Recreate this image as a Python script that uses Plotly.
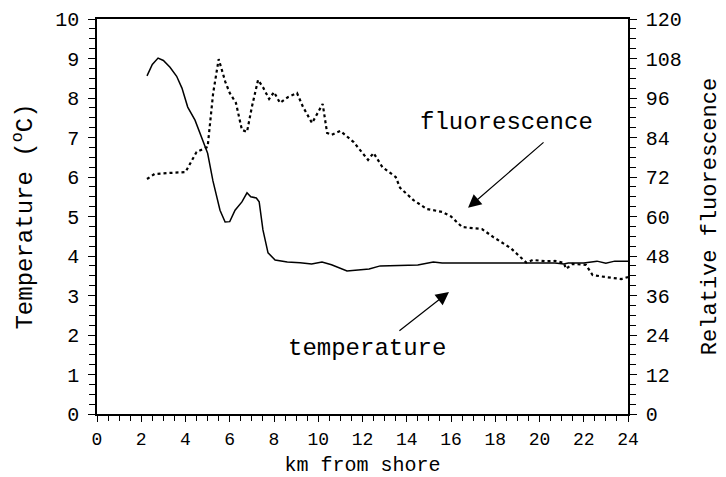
import plotly.graph_objects as go

temp_km = [2.26, 2.5, 2.76, 3.0, 3.3, 3.6, 3.84, 4.1, 4.43, 4.75, 5.0, 5.24, 5.56, 5.79, 6.0,
           6.24, 6.55, 6.78, 6.95, 7.2, 7.33, 7.5, 7.73, 8.05, 8.6, 9.18, 9.7, 10.17, 10.6,
           11.3, 11.8, 12.3, 12.8, 13.5, 14.5, 15.2, 15.6, 17.0, 19.0, 20.7, 21.1, 21.3,
           22.0, 22.6, 23.0, 23.4, 24.0]
temperature = [8.56, 8.85, 9.01, 8.95, 8.78, 8.55, 8.25, 7.77, 7.44, 6.94, 6.6, 5.9, 5.16, 4.86, 4.87,
               5.16, 5.37, 5.6, 5.5, 5.47, 5.37, 4.66, 4.08, 3.9, 3.85, 3.83, 3.8, 3.85, 3.78,
               3.62, 3.64, 3.67, 3.75, 3.76, 3.77, 3.85, 3.82, 3.82, 3.82, 3.82, 3.8, 3.82,
               3.82, 3.87, 3.82, 3.87, 3.87]

fluor_km = [2.26, 2.6, 3.2, 4.0, 4.5, 5.0, 5.25, 5.5, 5.8, 6.0, 6.28, 6.55, 6.78, 7.0, 7.28,
            7.5, 7.78, 8.0, 8.27, 8.64, 9.04, 9.31, 9.72, 10.2, 10.4, 10.6, 11.0, 11.6, 12.25,
            12.5, 12.9, 13.5, 13.7, 14.3, 14.9, 15.6, 16.0, 16.5, 17.4, 17.9, 18.7, 19.4,
            19.7, 20.3, 20.7, 21.1, 21.2, 21.5, 22.1, 22.4, 23.0, 23.7, 24.0]
fluorescence = [71.4, 72.9, 73.2, 73.5, 79.6, 81.1, 97.5, 107.8, 100.9, 97.5, 94.5, 86.3, 85.7, 93.3, 101.5,
                99.3, 95.7, 97.8, 94.5, 96.3, 97.5, 93.3, 88.4, 94.2, 85.4, 84.8, 86.0, 82.6, 77.2,
                79.3, 75.0, 72.0, 68.7, 65.0, 62.3, 61.4, 60.0, 56.8, 56.2, 53.8, 50.4, 46.0,
                46.8, 46.4, 46.5, 45.9, 44.1, 45.6, 45.3, 42.2, 41.6, 41.0, 41.6]

FONT = "Liberation Mono, Courier New, monospace"

fig = go.Figure()
fig.add_trace(go.Scatter(x=temp_km, y=temperature, mode="lines",
                         line=dict(color="black", width=1.5), name="temperature"))
fig.add_trace(go.Scatter(x=fluor_km, y=fluorescence, mode="lines", yaxis="y2",
                         line=dict(color="black", width=2.2, dash="dot"), name="fluorescence"))

fig.update_layout(
    width=718, height=469,
    margin=dict(l=89, r=98, t=11, b=63),
    paper_bgcolor="white", plot_bgcolor="white",
    showlegend=False,
    font=dict(family=FONT, color="black", size=18),
    xaxis=dict(range=[0, 24], dtick=2, showgrid=False, zeroline=False, automargin=False,
               showline=True, linecolor="black", linewidth=1.5, mirror=True,
               ticks="outside", ticklen=6, tickcolor="black",
               minor=dict(dtick=0.5, ticks="outside", ticklen=5, tickcolor="black"),
               tickfont=dict(size=18), ticklabelstandoff=2,
               title=dict(text="km from shore", font=dict(size=20), standoff=12)),
    yaxis=dict(range=[0, 10], dtick=1, showgrid=False, zeroline=False, automargin=False,
               showline=True, linecolor="black", linewidth=1.5,
               ticks="outside", ticklen=7, tickcolor="black",
               minor=dict(dtick=0.25, ticks="outside", ticklen=6, tickcolor="black"),
               tickfont=dict(size=20), ticklabelstandoff=5,
               title=dict(text="Temperature (<sup>o</sup>C)", font=dict(size=24), standoff=20)),
    yaxis2=dict(range=[0, 120], dtick=12, overlaying="y", side="right",
                showgrid=False, zeroline=False, automargin=False,
                showline=True, linecolor="black", linewidth=1.5,
                ticks="outside", ticklen=7, tickcolor="black",
                minor=dict(dtick=3, ticks="outside", ticklen=6, tickcolor="black"),
                tickfont=dict(size=20), ticklabelstandoff=5,
                title=dict(text="Relative fluorescence", font=dict(size=22), standoff=20)),
)

fig.add_annotation(x=18.53, y=7.37, xref="x", yref="y", text="fluorescence",
                   showarrow=False, font=dict(size=24))
fig.add_annotation(x=16.77, y=5.22, ax=20.25, ay=6.91, xref="x", yref="y",
                   axref="x", ayref="y", text="", showarrow=True,
                   arrowhead=2, arrowsize=2.2, arrowwidth=1.2, arrowcolor="black")
fig.add_annotation(x=12.2, y=1.65, xref="x", yref="y", text="temperature",
                   showarrow=False, font=dict(size=24))
fig.add_annotation(x=15.91, y=3.09, ax=13.6, ay=2.08, xref="x", yref="y",
                   axref="x", ayref="y", text="", showarrow=True,
                   arrowhead=2, arrowsize=2.2, arrowwidth=1.2, arrowcolor="black")

fig.write_html("out.html")
